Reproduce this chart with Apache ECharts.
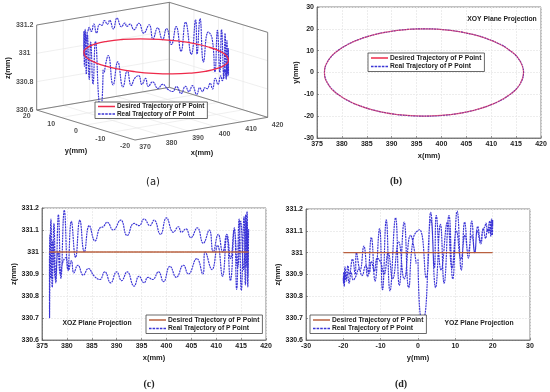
<!DOCTYPE html>
<html><head><meta charset="utf-8">
<style>html,body{margin:0;padding:0;background:#fff}#c{width:550px;height:392px}</style>
<script src="https://cdn.jsdelivr.net/npm/echarts@6/dist/echarts.min.js"></script>
</head><body><div id="c"></div>
<script>
// ---- data ----
const desiredX = [416.5,415.82,413.82,410.64,406.5,401.68,396.5,391.32,386.5,382.36,379.18,377.18,376.5,377.18,379.18,382.36,386.5,391.32,396.5,401.68,406.5,410.64,413.82,415.82,416.5];
const desiredY = [0,5.18,10,14.14,17.32,19.32,20,19.32,17.32,14.14,10,5.18,0,-5.18,-10,-14.14,-17.32,-19.32,-20,-19.32,-17.32,-14.14,-10,-5.18,0];
const desiredZ = [331,331,331,331,331,331,331,331,331,331,331,331,331,331,331,331,331,331,331,331,331,331,331,331,331];
const realX = [376.5,376.52,376.55,376.8,377.06,377.4,377.77,378.3,378.8,379.48,380.2,380.9,381.74,382.6,383.5,384.5,385.65,386.64,387.3,388.1,389.3,390.8,392.1,393.5,394.5,395.5,396.7,397.5,398.8,400,401.4,402.4,403,403.9,404.9,406.2,407.4,408.6,409.4,410.4,411.3,412.1,412.9,413.6,414.3,414.9,415.5,415.9,416,416.2,416.38,416.5,416.46,416.34,416.15,415.86,415.58,415.04,414.6,414.1,413.64,412.86,412.11,411.26,410.27,409.14,407.8,407.3,406.1,404.4,403.4,402,400.7,399.4,398.4,397.2,396.3,395.5,394.5,393.5,392.1,391,390,388.8,387.6,386.6,385.5,384.3,383.3,382.2,381.4,380.9,380.3,379.8,379.2,378.7,378.2,377.7,377.2,376.85,376.6,376.5];
const realY = [0,0.9,1.5,3.45,4.7,6,7,8.3,9.3,10.5,11.6,12.5,13.5,14.4,15.2,16,16.8,17.4,17.8,18.2,18.6,19.2,19.5,19.8,19.9,20,20,20,19.9,19.7,19.4,19.1,18.9,18.6,18.1,17.5,16.8,15.9,15.2,14.4,13.4,12.6,11.5,10.3,9.1,7.9,6.2,4.9,4.4,3.4,2.2,0.4,-1.2,-2.5,-3.7,-5,-6,-7.5,-8.5,-9.5,-10.3,-11.5,-12.5,-13.5,-14.5,-15.5,-16.5,-16.83,-17.55,-18.37,-18.77,-19.23,-19.55,-19.79,-19.91,-19.99,-20,-19.97,-19.9,-19.77,-19.51,-19.23,-18.92,-18.46,-17.91,-17.36,-16.7,-15.8,-15,-14,-13.1,-12.5,-11.7,-10.9,-10,-9.1,-8,-6.8,-5.2,-3.7,-2,-0.5];
const realZ = [330.97,330.7,330.7,331.15,330.84,331.13,330.86,331.17,330.88,331.19,330.92,331.14,330.975,331.145,331,331.12,331.05,331.11,331.115,331.135,331.1,331.145,331.075,331.13,331.12,331.15,331.12,331.145,331.08,331.155,331.09,331.115,331.09,331.105,331.065,331.11,331.04,331.1,331,331.08,331,331.08,330.97,331.1,330.93,331.14,330.92,331.17,330.93,331.185,330.885,331.105,331.07,330.84,331.14,330.85,331.16,330.825,331.15,330.83,331.11,330.87,331.07,330.89,331.03,330.92,331,330.9,330.97,330.9,330.94,330.885,330.935,330.865,330.91,330.875,330.885,330.86,330.89,330.845,330.91,330.87,330.91,330.86,330.91,330.875,330.89,330.925,330.895,330.94,330.905,330.96,330.915,330.975,330.955,330.9,331,330.88,331.05,330.88,331.08,330.95];
const xTicks3d = [370,380,390,400,410,420];
const yTicks3d = [20,10,0,-10,-20];
const zTicks3d = [330.6,330.8,331,331.2];
const desiredName = 'Desired Trajectory of P Point';
const realName = 'Real Trajectory of P Point';

// ---- oblique projection of panel (a) into page units ----
function P(x,y,z){
  const u=(x-370)/50, v=(y+20)/40, w=(z-330.6)/0.6;
  return [135+132.67*u-98.33*v, 140-22.67*u-30*v-85*w];
}
function segs(list){const o=[];list.forEach(s=>{o.push(P(...s[0]),P(...s[1]),[NaN,NaN]);});return o;}
const gridSeg=[], boxSeg=[];
const X0=370,X1=420,Y0=-20,Y1=20,Z0=330.6,Z1=331.2;
xTicks3d.forEach(x=>{gridSeg.push([[x,Y0,Z0],[x,Y1,Z0]],[[x,Y1,Z0],[x,Y1,Z1]]);});
yTicks3d.forEach(y=>{gridSeg.push([[X0,y,Z0],[X1,y,Z0]],[[X1,y,Z0],[X1,y,Z1]]);});
zTicks3d.forEach(z=>{gridSeg.push([[X0,Y1,z],[X1,Y1,z]],[[X1,Y1,z],[X1,Y0,z]]);});
boxSeg.push(
 [[X0,Y1,Z1],[X1,Y1,Z1]],[[X1,Y1,Z1],[X1,Y0,Z1]],
 [[X0,Y1,Z0],[X0,Y1,Z1]],[[X1,Y0,Z0],[X1,Y0,Z1]],[[X1,Y1,Z0],[X1,Y1,Z1]],
 [[X0,Y1,Z0],[X0,Y0,Z0]],[[X0,Y0,Z0],[X1,Y0,Z0]],
 [[X0,Y1,Z0],[X1,Y1,Z0]],[[X1,Y1,Z0],[X1,Y0,Z0]]);
const labelPts=[];
xTicks3d.forEach(x=>{const p=P(x,Y0,Z0);labelPts.push([p[0]+10,p[1]+7.5,String(x)]);});
yTicks3d.forEach(y=>{const p=P(X0,y,Z0);labelPts.push([p[0]-10,p[1]+6.5,String(y)]);});
zTicks3d.forEach(z=>{const p=P(X0,Y1,z);labelPts.push([p[0]-12,p[1],String(z)]);});
const proj=(xs,ys,zs)=>xs.map((x,i)=>P(x,ys[i],zs[i]));
const zip=(a,b)=>a.map((v,i)=>[v,b[i]]);

const font='"Liberation Sans",Arial,sans-serif';
const RED='#ee2a4a', BROWN='#b9603f', BLUE='#3b35d6';
const realStyle={color:BLUE,width:1.15,type:[2,0.7]};
const desired=(g,d,c,w)=>({type:'line',name:desiredName,xAxisIndex:g,yAxisIndex:g,data:d,smooth:0.5,symbol:'none',silent:true,lineStyle:{color:c,width:w},itemStyle:{color:c},z:4});
const real=(g,d)=>({type:'line',name:realName,xAxisIndex:g,yAxisIndex:g,data:d,smooth:0.5,symbol:'none',silent:true,lineStyle:realStyle,itemStyle:{color:BLUE},z:3});

const gridStyle={show:true,lineStyle:{color:'#e8e8e8',width:0.8,type:[2,1]}};
const tick={show:true,inside:true,length:2,lineStyle:{color:'#555',width:0.6}};
const lab={color:'#222',fontSize:7,fontWeight:'bold',fontFamily:font,margin:3};
const nameTs={color:'#222',fontSize:7.5,fontWeight:'bold',fontFamily:font};
const ax=(g,min,max,interval,name,gap)=>({gridIndex:g,type:'value',min,max,interval,name,nameLocation:'middle',nameGap:gap,nameTextStyle:nameTs,axisLabel:lab,axisTick:tick,axisLine:{show:true,onZero:false,lineStyle:{color:'#666',width:0.8}},splitLine:gridStyle});
const frame=(l,t,w,h)=>({show:true,left:l,top:t,width:w,height:h,borderColor:'#666',borderWidth:0.8,backgroundColor:'transparent'});
const leg=(l,t,c,fs)=>({left:l,top:t,orient:'vertical',padding:[1.5,3],itemGap:1.5,itemWidth:17,itemHeight:1.5,backgroundColor:'#fff',borderColor:'#444',borderWidth:0.8,borderRadius:0,selectedMode:false,
  textStyle:{color:'#222',fontSize:fs,fontWeight:'bold',fontFamily:font,padding:[0,0,0,-3]},
  data:[{name:desiredName,icon:'rect',itemStyle:{color:c}},{name:realName,icon:'path://M0 0H14V8H0Z M20 0H34V8H20Z M40 0H54V8H40Z M60 0H74V8H60Z M80 0H94V8H80Z',itemStyle:{color:BLUE}}]});
const txt=(text,x,y,opt)=>({text,left:x,top:y,textAlign:'center',textVerticalAlign:'middle',padding:0,textStyle:Object.assign({color:'#222',fontSize:6.8,fontWeight:'bold',fontFamily:font},opt||{})});

const option={animation:false,backgroundColor:'#fff',
 title:[
  txt('XOY Plane Projection',502,19), txt('XOZ Plane Projection',97,323), txt('YOZ Plane Projection',479,323),
  txt('(a)',153,182,{fontSize:10,fontWeight:'normal',fontFamily:'"DejaVu Sans",sans-serif'}),
  txt('(b)',396,181,{fontSize:10,fontFamily:'"Liberation Serif",serif'}),
  txt('(c)',149,384,{fontSize:10,fontFamily:'"Liberation Serif",serif'}),
  txt('(d)',401,384,{fontSize:10,fontFamily:'"Liberation Serif",serif'}),
  txt('y(mm)',76,151,{fontSize:7.5}), txt('x(mm)',202,153,{fontSize:7.5})
 ],
 grid:[{left:0,top:0,width:550,height:392,show:false},frame(317,7,224,131),frame(42,208,224,132),frame(306,209,224,131)],
 xAxis:[
  {gridIndex:0,type:'value',min:0,max:550,show:false},
  ax(1,375,420,5,'x(mm)',14),ax(2,375,420,5,'x(mm)',14),ax(3,-30,30,10,'y(mm)',14)],
 yAxis:[
  {gridIndex:0,type:'value',min:0,max:392,inverse:true,show:false},
  ax(1,-30,30,10,'y(mm)',10),ax(2,330.6,331.2,0.1,'z(mm)',15),ax(3,330.6,331.2,0.1,'z(mm)',16)],
 legend:[leg(95,102,RED,6.4),leg(368,53,RED,6.7),leg(146,315,BROWN,6.7),leg(310,315,BROWN,6.7)],
 series:[
  {type:'line',xAxisIndex:0,yAxisIndex:0,data:segs(gridSeg),symbol:'none',silent:true,connectNulls:false,lineStyle:{color:'#e8e8e8',width:0.7},z:1},
  {type:'line',xAxisIndex:0,yAxisIndex:0,data:segs(boxSeg),symbol:'none',silent:true,connectNulls:false,lineStyle:{color:'#666',width:0.8},z:2},
  {type:'scatter',xAxisIndex:0,yAxisIndex:0,data:labelPts,symbolSize:0,silent:true,
   label:{show:true,position:'inside',formatter:p=>p.value[2],color:'#222',fontSize:7,fontWeight:'bold',fontFamily:font},z:2},
  real(0,proj(realX,realY,realZ)),
  desired(0,proj(desiredX,desiredY,desiredZ),RED,1.3),
  real(1,zip(realX,realY)),
  Object.assign(desired(1,zip(desiredX,desiredY),RED,1.2),{lineStyle:{color:RED,width:1.2,opacity:0.6}}),
  real(2,zip(realX,realZ)),
  desired(2,zip(desiredX,desiredZ),BROWN,1),
  real(3,zip(realY,realZ)),
  desired(3,zip(desiredY,desiredZ),BROWN,1.2)
 ],
 graphic:[{type:'text',x:8,y:68,rotation:Math.PI/2,originX:0,originY:0,style:{text:'z(mm)',fill:'#222',font:'bold 7.5px '+font,textAlign:'center',textVerticalAlign:'middle'}}]
};
echarts.init(document.getElementById('c'),null,{renderer:'canvas'}).setOption(option);
</script></body></html>
